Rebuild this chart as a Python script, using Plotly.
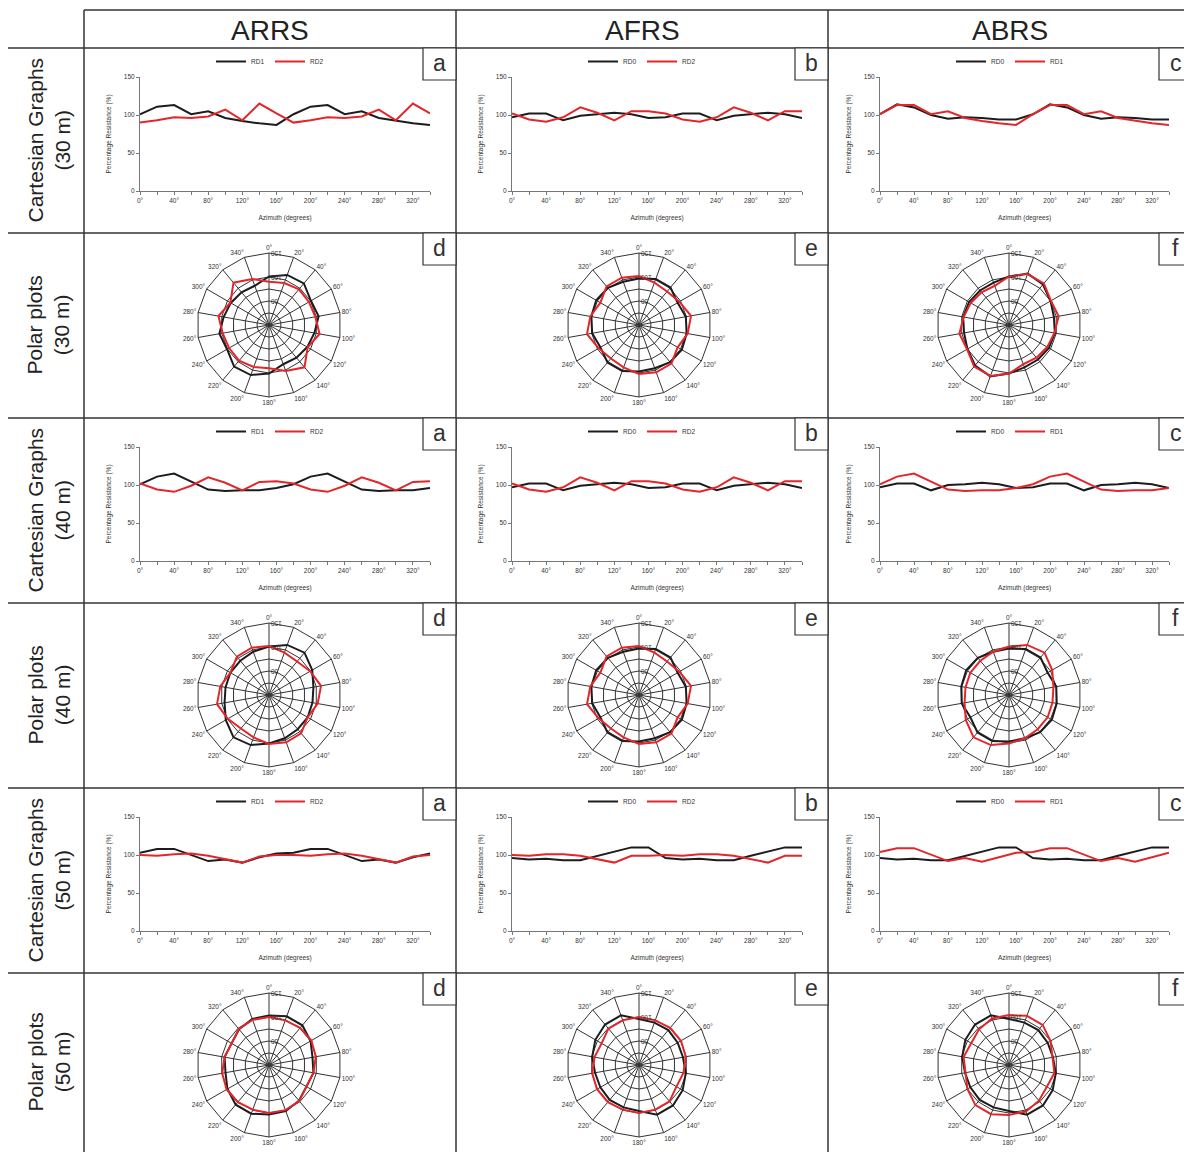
import plotly.graph_objects as go

# page body has an 8px margin; the figure is laid out in window pixels minus that offset
OFF = 8
W, H = 1192 - OFF, 1152 - OFF

azimuth = list(range(0, 360, 20))
az_labels = [f"{a}°" for a in azimuth]
x_tick_vals = list(range(0, 360, 40))
x_tick_text = [f"{a}°" for a in x_tick_vals]

columns = ["ARRS", "AFRS", "ABRS"]
row_labels = ["Cartesian Graphs<br>(30 m)", "Polar plots<br>(30 m)",
              "Cartesian Graphs<br>(40 m)", "Polar plots<br>(40 m)",
              "Cartesian Graphs<br>(50 m)", "Polar plots<br>(50 m)"]

# ---- 30 m ----
arrs30_rd1 = [101, 111, 113, 101, 105, 96, 92, 89, 87, 101, 111, 113, 101, 105, 96, 92, 89, 87]
arrs30_rd2 = [90, 93, 97, 96, 98, 107, 93, 115, 102, 90, 93, 97, 96, 98, 107, 93, 115, 102]
afrs30_rd0 = [97, 102, 102, 93, 99, 101, 103, 101, 96, 97, 102, 102, 93, 99, 101, 103, 101, 96]
afrs30_rd2 = [102, 94, 91, 97, 110, 103, 93, 105, 105, 102, 94, 91, 97, 110, 103, 93, 105, 105]
abrs30_rd0 = [101, 114, 110, 100, 95, 97, 96, 94, 94, 101, 114, 110, 100, 95, 97, 96, 94, 94]
abrs30_rd1 = [101, 113, 113, 101, 105, 96, 92, 89, 87, 101, 113, 113, 101, 105, 96, 92, 89, 87]

# ---- 40 m ----
arrs40_rd1 = [101, 111, 115, 104, 94, 92, 93, 93, 96, 101, 111, 115, 104, 94, 92, 93, 93, 96]
arrs40_rd2 = [102, 94, 91, 99, 110, 103, 93, 104, 105, 102, 94, 91, 99, 110, 103, 93, 104, 105]
afrs40_rd0 = [97, 102, 102, 93, 99, 101, 103, 101, 96, 97, 102, 102, 93, 99, 101, 103, 101, 96]
afrs40_rd2 = [102, 94, 91, 97, 110, 103, 93, 105, 105, 102, 94, 91, 97, 110, 103, 93, 105, 105]
abrs40_rd0 = [97, 102, 102, 93, 100, 101, 103, 101, 96, 97, 102, 102, 93, 100, 101, 103, 101, 96]
abrs40_rd1 = [101, 111, 115, 104, 94, 92, 93, 93, 96, 101, 111, 115, 104, 94, 92, 93, 93, 96]

# ---- 50 m ----
arrs50_rd1 = [103, 108, 108, 100, 92, 94, 90, 97, 102, 103, 108, 108, 100, 92, 94, 90, 97, 102]
arrs50_rd2 = [100, 99, 101, 102, 99, 94, 90, 98, 100, 100, 99, 101, 102, 99, 94, 90, 98, 100]
afrs50_rd0 = [96, 94, 95, 93, 93, 99, 105, 110, 110, 96, 94, 95, 93, 93, 99, 105, 110, 110]
afrs50_rd2 = [100, 99, 101, 101, 99, 94, 90, 99, 99, 100, 99, 101, 101, 99, 94, 90, 99, 99]
abrs50_rd0 = [96, 94, 95, 93, 93, 99, 105, 110, 110, 96, 94, 95, 93, 93, 99, 105, 110, 110]
abrs50_rd1 = [104, 109, 109, 100, 92, 96, 91, 97, 103, 104, 109, 109, 100, 92, 96, 91, 97, 103]

panels = [  # [depth_row][column] -> (series1 name, values, series2 name, values)
    [("RD1", arrs30_rd1, "RD2", arrs30_rd2), ("RD0", afrs30_rd0, "RD2", afrs30_rd2), ("RD0", abrs30_rd0, "RD1", abrs30_rd1)],
    [("RD1", arrs40_rd1, "RD2", arrs40_rd2), ("RD0", afrs40_rd0, "RD2", afrs40_rd2), ("RD0", abrs40_rd0, "RD1", abrs40_rd1)],
    [("RD1", arrs50_rd1, "RD2", arrs50_rd2), ("RD0", afrs50_rd0, "RD2", afrs50_rd2), ("RD0", abrs50_rd0, "RD1", abrs50_rd1)],
]

BLACK = "#1c1c1c"
RED = "#e3262b"
FONT = "Liberation Sans"

def fx(p):
    return max(0.0, min(1.0, (p - OFF) / W))

def fy(p):
    return max(0.0, min(1.0, 1 - (p - OFF) / H))

# geometry in window pixels
col_lines = [84, 456, 828, 1192]
row_lines = [48, 233, 418, 603, 788, 973, 1152]
cart_x = [(140, 430), (512, 802), (880, 1169)]
cart_top, cart_bot = 77, 191
pol_cx = [269, 639, 1009]
pol_cy0 = 325
pol_r = 72
step = 370

fig = go.Figure()
layout = dict(width=W, height=H, margin=dict(l=0, r=0, t=0, b=0, autoexpand=False),
              paper_bgcolor="white", plot_bgcolor="white",
              font=dict(family=FONT, color="#222"), showlegend=True)

idx = 0
for d in range(3):
    for c in range(3):
        idx += 1
        n1, v1, n2, v2 = panels[d][c]
        sfx = "" if idx == 1 else str(idx)
        lg = "legend" if idx == 1 else f"legend{idx}"
        # cartesian
        fig.add_trace(go.Scatter(x=azimuth, y=v1, name=n1, mode="lines",
                                 line=dict(color=BLACK, width=2),
                                 xaxis="x" + sfx, yaxis="y" + sfx, legend=lg))
        fig.add_trace(go.Scatter(x=azimuth, y=v2, name=n2, mode="lines",
                                 line=dict(color=RED, width=2),
                                 xaxis="x" + sfx, yaxis="y" + sfx, legend=lg))
        x0, x1 = cart_x[c]
        t = cart_top + step * d
        b = cart_bot + step * d
        layout["xaxis" + sfx] = dict(
            domain=[fx(x0), fx(x1)], anchor="y" + sfx, range=[0, 340], automargin=False,
            tickvals=x_tick_vals, ticktext=x_tick_text, ticks="outside", ticklen=3,
            minor=dict(tickvals=azimuth, ticks="outside", ticklen=3, tickcolor="#777"),
            showgrid=False, zeroline=False, showline=True, linecolor="#777", linewidth=1,
            tickcolor="#777", tickfont=dict(size=6.5, color="#333"),
            title=dict(text="Azimuth (degrees)", font=dict(size=6.5, color="#333"), standoff=12))
        layout["yaxis" + sfx] = dict(
            domain=[fy(b), fy(t)], anchor="x" + sfx, range=[0, 150], automargin=False,
            tickvals=[0, 50, 100, 150], ticks="outside", ticklen=3,
            showgrid=False, zeroline=False, showline=True, linecolor="#777", linewidth=1,
            tickcolor="#777", tickfont=dict(size=6.5, color="#333"),
            title=dict(text="Percentage Resistance (%)", font=dict(size=6.5, color="#333"), standoff=11))
        layout[lg] = dict(orientation="h", x=fx((col_lines[c] + col_lines[c + 1]) / 2),
                          xanchor="center", y=fy(47 + step * d), yanchor="top",
                          font=dict(size=6.5, color="#333"), itemwidth=30,
                          entrywidth=14, entrywidthmode="pixels",
                          bgcolor="rgba(0,0,0,0)", tracegroupgap=0)
        # polar
        pname = "polar" + sfx
        cx, cy = pol_cx[c], pol_cy0 + step * d
        th = az_labels + [az_labels[0]]
        fig.add_trace(go.Scatterpolar(r=v1 + [v1[0]], theta=th, mode="lines", name=n1,
                                      line=dict(color=BLACK, width=2), subplot=pname,
                                      showlegend=False))
        fig.add_trace(go.Scatterpolar(r=v2 + [v2[0]], theta=th, mode="lines", name=n2,
                                      line=dict(color=RED, width=2), subplot=pname,
                                      showlegend=False))
        layout[pname] = dict(
            domain=dict(x=[fx(cx - pol_r), fx(cx + pol_r)], y=[fy(cy + pol_r), fy(cy - pol_r)]),
            gridshape="linear", bgcolor="white",
            angularaxis=dict(type="category", categoryorder="array", categoryarray=az_labels,
                             direction="clockwise", rotation=90, showline=True,
                             linecolor="#333", linewidth=1, gridcolor="#333", gridwidth=1,
                             ticks="", tickfont=dict(size=6.5, color="#333")),
            radialaxis=dict(range=[0, 150], angle=90, tickangle=-90,
                            tickvals=[25, 50, 75, 100, 150], ticktext=["", "50", "", "100", "150"],
                            showline=False, gridcolor="#333", gridwidth=1, ticks="",
                            tickfont=dict(size=6.5, color="#333")))

shapes = []
annotations = []
LC = "#333"
# table lines
shapes.append(dict(type="line", xref="paper", yref="paper", x0=fx(84), x1=1, y0=fy(10), y1=fy(10),
                   line=dict(color=LC, width=1.5)))
for y in row_lines[:-1]:
    shapes.append(dict(type="line", xref="paper", yref="paper", x0=0, x1=1, y0=fy(y), y1=fy(y),
                       line=dict(color=LC, width=1.5)))
for x in col_lines[:-1]:
    shapes.append(dict(type="line", xref="paper", yref="paper", x0=fx(x), x1=fx(x), y0=fy(10), y1=0,
                       line=dict(color=LC, width=1.5)))

# headers
for c, name in enumerate(columns):
    annotations.append(dict(text=name, x=fx((col_lines[c] + col_lines[c + 1]) / 2), y=fy(30),
                            xref="paper", yref="paper", showarrow=False,
                            xanchor="center", yanchor="middle",
                            font=dict(size=28, family=FONT, color="#222")))
# row labels
for r, lab in enumerate(row_labels):
    annotations.append(dict(text=lab, x=fx(48), y=fy((row_lines[r] + row_lines[r + 1]) / 2),
                            xref="paper", yref="paper", showarrow=False, textangle=-90,
                            xanchor="center", yanchor="middle",
                            font=dict(size=21, family=FONT, color="#222")))
# panel letters
letters_cart = ["a", "b", "c"]
letters_pol = ["d", "e", "f"]
for r in range(6):
    for c in range(3):
        letter = letters_cart[c] if r % 2 == 0 else letters_pol[c]
        right = col_lines[c + 1]
        top = row_lines[r]
        shapes.append(dict(type="rect", xref="paper", yref="paper",
                           x0=fx(right - 33), x1=fx(right), y0=fy(top + 32), y1=fy(top),
                           line=dict(color=LC, width=1.2), fillcolor="white"))
        annotations.append(dict(text=letter, x=fx(right - 16.5), y=fy(top + 15),
                                xref="paper", yref="paper", showarrow=False,
                                xanchor="center", yanchor="middle",
                                font=dict(size=23, family=FONT, color="#333")))

layout["shapes"] = shapes
layout["annotations"] = annotations
fig.update_layout(**layout)
fig.write_html("out.html")
